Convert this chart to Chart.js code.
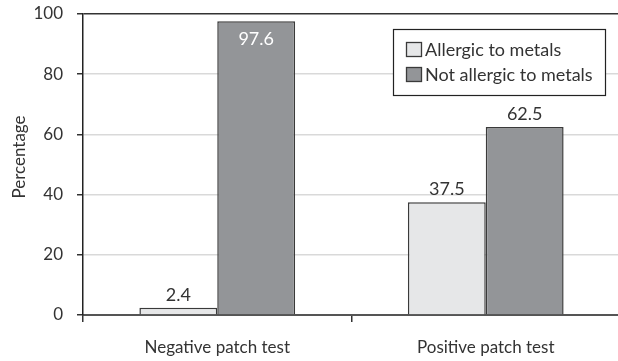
<!DOCTYPE html>
<html>
<head>
<meta charset="utf-8">
<script src="https://cdn.jsdelivr.net/npm/chart.js@4.4.1/dist/chart.umd.min.js"></script>
<style>
  html, body { margin: 0; padding: 0; background: #fff; overflow: hidden; }
  #wrap { width: 620px; height: 361px; }
</style>
</head>
<body>
<div id="wrap"><canvas id="c" width="620" height="361"></canvas></div>
<script>
// Share of patients in each patch-test group (percent)
const categories = ['Negative patch test', 'Positive patch test'];
const seriesNames = ['Allergic to metals', 'Not allergic to metals'];
const allergic = [2.4, 37.5];
const notAllergic = [97.6, 62.5];
const yTicks = [0, 20, 40, 60, 80, 100];
const yTitle = 'Percentage';

const FONT = 'Lato, "Open Sans", sans-serif';
const TEXT = '#333333';
const LIGHT = '#e6e7e8';
const DARK = '#939598';
const EDGE = '#3a3a3a';

// Value labels: above each bar, or inside (white) when the bar reaches the top
const valueLabels = {
  id: 'valueLabels',
  afterDatasetsDraw(chart) {
    const ctx = chart.ctx;
    ctx.save();
    ctx.font = '18px ' + FONT;
    ctx.textAlign = 'center';
    ctx.textBaseline = 'middle';
    chart.data.datasets.forEach((ds, i) => {
      chart.getDatasetMeta(i).data.forEach((bar, j) => {
        const v = ds.data[j];
        if (v > 90) {
          ctx.fillStyle = '#ffffff';
          ctx.fillText(v.toFixed(1), bar.x, bar.y + 18);
        } else {
          ctx.fillStyle = TEXT;
          ctx.fillText(v.toFixed(1), bar.x, bar.y - 13);
        }
      });
    });
    ctx.restore();
  }
};

// Rotated y-axis title
const axisTitle = {
  id: 'axisTitle',
  afterDraw(chart) {
    const ctx = chart.ctx;
    ctx.save();
    ctx.translate(20, 157);
    ctx.rotate(-Math.PI / 2);
    ctx.font = '17px ' + FONT;
    ctx.fillStyle = TEXT;
    ctx.textAlign = 'center';
    ctx.textBaseline = 'middle';
    ctx.fillText(yTitle, 0, 0);
    ctx.restore();
  }
};

// Boxed legend in the upper right of the plot
const boxedLegend = {
  id: 'boxedLegend',
  afterDraw(chart) {
    const ctx = chart.ctx;
    const x0 = 393.5, y0 = 29.5, w = 212, h = 66;
    ctx.save();
    ctx.fillStyle = '#ffffff';
    ctx.fillRect(x0, y0, w, h);
    ctx.strokeStyle = '#222';
    ctx.lineWidth = 1.2;
    ctx.strokeRect(x0, y0, w, h);
    ctx.font = '18px ' + FONT;
    ctx.textBaseline = 'middle';
    ctx.textAlign = 'left';
    chart.data.datasets.forEach((ds, i) => {
      const cy = 49.5 + i * 25;
      ctx.fillStyle = ds.backgroundColor;
      ctx.fillRect(406.5, cy - 7, 15, 14);
      ctx.strokeStyle = EDGE;
      ctx.lineWidth = 1.3;
      ctx.strokeRect(406.5, cy - 7, 15, 14);
      ctx.fillStyle = TEXT;
      ctx.fillText(ds.label, 425, cy + 1);
    });
    ctx.restore();
  }
};

new Chart(document.getElementById('c'), {
  type: 'bar',
  data: {
    labels: categories,
    datasets: [
      { label: seriesNames[0], data: allergic, backgroundColor: LIGHT, borderColor: EDGE, borderWidth: 1.5 },
      { label: seriesNames[1], data: notAllergic, backgroundColor: DARK, borderColor: EDGE, borderWidth: 1.5 }
    ]
  },
  options: {
    responsive: false,
    animation: false,
    layout: { padding: { top: 14, right: 0, left: 0, bottom: 0 } },
    datasets: { bar: { categoryPercentage: 0.58, barPercentage: 1.0 } },
    plugins: { legend: { display: false }, tooltip: { enabled: false } },
    scales: {
      x: {
        offset: true,
        afterFit(s) { s.height = 46; },
        grid: {
          offset: true,
          drawOnChartArea: false,
          drawTicks: true,
          tickLength: 7,
          tickColor: '#333',
          lineWidth: 1.5
        },
        border: { display: true, color: '#555', width: 2 },
        ticks: { color: TEXT, font: { family: FONT, size: 17 }, padding: 15, maxRotation: 0 }
      },
      y: {
        min: 0,
        max: 100,
        afterFit(s) { s.width = 83; s.paddingTop = 0; s.paddingBottom = 0; },
        afterBuildTicks(s) { s.ticks = yTicks.map(v => ({ value: v })); },
        grid: {
          color: c => (c.tick && c.tick.value === 100) ? '#333' : (c.tick && c.tick.value === 0 ? '#555' : '#d9d9d9'),
          lineWidth: 1.5,
          tickColor: '#333',
          tickLength: 6,
          drawTicks: true
        },
        border: { display: true, color: '#222', width: 1.5 },
        ticks: { color: TEXT, font: { family: FONT, size: 17 }, padding: 14 }
      }
    }
  },
  plugins: [valueLabels, axisTitle, boxedLegend]
});
</script>
</body>
</html>
